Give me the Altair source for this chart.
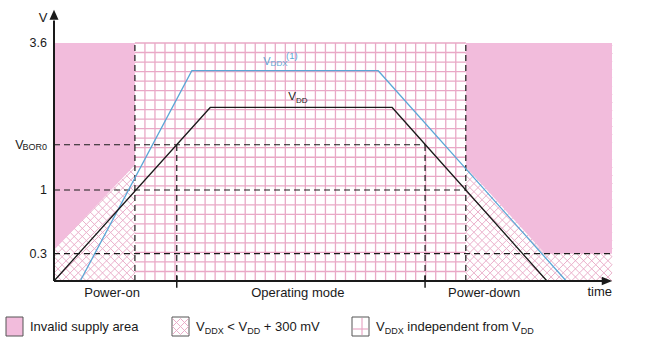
import altair as alt
import numpy as np
import pandas as pd

# ---------------- values ----------------
V_MAX = 3.6
V_BOR0 = 1.8
tick_values = [3.6, 1.0, 0.3]
tick_labels = ["3.6", "1", "0.3"]

# time in arbitrary units (0 = origin, 100 = end of time axis)
vdd_t = [0.0, 28.0, 60.6, 88.35]
vdd_v = [0.0, 2.46, 2.46, 0.0]
vddx_t = [4.7, 24.7, 58.1, 91.8]
vddx_v = [0.0, 3.11, 3.11, 0.0]

t_left_zone_end = 14.5     # end of left invalid zone
t_right_zone_start = 73.8  # start of right invalid zone
t_axis_end = 100.0
axis_ticks_t = [22.0, 66.5]

inv_left_t = [0.0, 14.5]
inv_left_low = [0.34, 1.44]
inv_right_t = [73.8, 88.0, 100.0]
inv_right_low = [1.41, 0.3, 0.3]

hdash_v = [V_BOR0, 1.0, 0.3]
hdash_t_end = [66.5, 73.8, 100.0]
vdash_t = [14.5, 22.0, 66.5, 73.8]
vdash_v_top = [3.6, V_BOR0, V_BOR0, 3.6]

phase_labels = ["Power-on", "Operating mode", "Power-down"]
phase_t = [10.4, 43.7, 77.1]

# ---------------- styling ----------------
FONT = "Liberation Sans"
PINK = "#f2bcdc"
GRID = "#e9a8c6"
HATCH = "#e8a6c4"
BLUE = "#5ba7d6"
BLACK = "#1a1a1a"
DASH = [6, 4]

X_RANGE = [54, 612]
Y_RANGE = [281, 190, 43]
XS = alt.Scale(domain=[0, 100], range=X_RANGE, nice=False, zero=False)
YS = alt.Scale(domain=[0, 1, 3.6], range=Y_RANGE, nice=False, zero=False)
US = alt.Scale(domain=[0, 3.6], range=[281, 43], nice=False, zero=False)  # texture space
PX_T = (X_RANGE[1] - X_RANGE[0]) / 100.0
PX_U = (281 - 43) / 3.6
PITCH = 8.1
XPATH = "M-1,-1L1,1M-1,1L1,-1"


def xq(f):
    return alt.X(f, type="quantitative", scale=XS, axis=None)


def yq(f):
    return alt.Y(f, type="quantitative", scale=YS, axis=None)


def uq(f):
    return alt.Y(f, type="quantitative", scale=US, axis=None)


def px(f, ch):
    return ch(f, type="quantitative", scale=None, axis=None)


layers = []

# --- cross-hatch texture (left and right zones), covered later by pink areas
for t0, t1 in [(0.0, t_left_zone_end), (t_right_zone_start, t_axis_end)]:
    n = max(1, int(round((t1 - t0) * PX_T / PITCH)))
    step_t = (t1 - t0) / n
    span = step_t * PX_T
    step_u = span / PX_U
    m = int(np.floor(V_MAX / step_u))
    tt, uu = np.meshgrid(t0 + step_t * (np.arange(n) + 0.5), step_u * (np.arange(m) + 0.5))
    hdf = pd.DataFrame({"t": tt.ravel(), "u": uu.ravel()})
    layers.append(
        alt.Chart(hdf).mark_point(shape=XPATH, filled=False, stroke=HATCH, strokeWidth=0.9,
                                  size=span * span, opacity=1)
        .encode(x=xq("t"), y=uq("u"))
    )

# --- square grid texture (middle zone)
n_cols, n_rows = 33, 25
gv = pd.DataFrame({"t": np.linspace(t_left_zone_end, t_right_zone_start, n_cols + 1)[1:-1],
                   "u0": 0.0, "u1": V_MAX})
gh = pd.DataFrame({"u": np.linspace(0, V_MAX, n_rows + 1)[1:],
                   "t0": t_left_zone_end, "t1": t_right_zone_start})
layers.append(alt.Chart(gv).mark_rule(color=GRID, strokeWidth=1.3)
              .encode(x=xq("t"), y=uq("u0"), y2="u1"))
layers.append(alt.Chart(gh).mark_rule(color=GRID, strokeWidth=1.3)
              .encode(y=uq("u"), x=xq("t0"), x2="t1"))

# --- invalid supply areas
left_df = pd.DataFrame({"t": inv_left_t, "top": V_MAX, "low": inv_left_low})
right_df = pd.DataFrame({"t": inv_right_t, "top": V_MAX, "low": inv_right_low})
for d in (left_df, right_df):
    layers.append(alt.Chart(d).mark_area(color=PINK, opacity=1)
                  .encode(x=xq("t"), y=yq("top"), y2="low"))

# --- dashed reference lines
hd = pd.DataFrame({"v": hdash_v, "t0": 0.0, "t1": hdash_t_end})
vd = pd.DataFrame({"t": vdash_t, "v0": 0.0, "v1": vdash_v_top})
layers.append(alt.Chart(hd).mark_rule(color=BLACK, strokeWidth=1.2, strokeDash=DASH)
              .encode(y=yq("v"), x=xq("t0"), x2="t1"))
layers.append(alt.Chart(vd).mark_rule(color=BLACK, strokeWidth=1.2, strokeDash=DASH)
              .encode(x=xq("t"), y=yq("v0"), y2="v1"))

# --- supply curves
layers.append(alt.Chart(pd.DataFrame({"t": vddx_t, "v": vddx_v}))
              .mark_line(color=BLUE, strokeWidth=1.3).encode(x=xq("t"), y=yq("v")))
layers.append(alt.Chart(pd.DataFrame({"t": vdd_t, "v": vdd_v}))
              .mark_line(color=BLACK, strokeWidth=1.3).encode(x=xq("t"), y=yq("v")))

# --- axes with arrows
layers.append(alt.Chart(pd.DataFrame({"t0": [0.0], "t1": [98.6], "v": [0.0]}))
              .mark_rule(color=BLACK, strokeWidth=2).encode(y=yq("v"), x=xq("t0"), x2="t1"))
layers.append(alt.Chart(pd.DataFrame({"t": [0.0], "v0": [0.0], "v1": [4.0]}))
              .mark_rule(color=BLACK, strokeWidth=2).encode(x=xq("t"), y=yq("v0"), y2="v1"))
layers.append(alt.Chart(pd.DataFrame({"t": [99.1], "v": [0.0]}))
              .mark_point(shape="M1,0L-1,-0.8L-1,0.8Z", filled=True, color=BLACK, size=110, opacity=1)
              .encode(x=xq("t"), y=yq("v")))
layers.append(alt.Chart(pd.DataFrame({"t": [0.0], "v": [4.1]}))
              .mark_point(shape="M0,-1L0.9,1L-0.9,1Z", filled=True, color=BLACK, size=100, opacity=1)
              .encode(x=xq("t"), y=yq("v")))
layers.append(alt.Chart(pd.DataFrame({"t": axis_ticks_t, "v0": -0.075, "v1": 0.055}))
              .mark_rule(color=BLACK, strokeWidth=1.5).encode(x=xq("t"), y=yq("v0"), y2="v1"))

# --- y tick labels
layers.append(alt.Chart(pd.DataFrame({"v": tick_values, "lab": tick_labels}))
              .mark_text(font=FONT, fontSize=12.5, align="right", baseline="alphabetic", dy=4.3, color=BLACK)
              .encode(y=yq("v"), x=alt.value(47), text="lab:N"))
bor = pd.DataFrame({"v": [V_BOR0], "a": ["V"], "b": ["BOR0"]})
layers.append(alt.Chart(bor).mark_text(font=FONT, fontSize=12.5, align="right", baseline="alphabetic",
                                       dy=4.3, color=BLACK)
              .encode(y=yq("v"), x=alt.value(23.5), text="a:N"))
layers.append(alt.Chart(bor).mark_text(font=FONT, fontSize=9, align="right", baseline="alphabetic",
                                       dy=5, color=BLACK)
              .encode(y=yq("v"), x=alt.value(47), text="b:N"))

# --- phase labels
layers.append(alt.Chart(pd.DataFrame({"t": phase_t, "lab": phase_labels}))
              .mark_text(font=FONT, fontSize=13, align="center", baseline="alphabetic", color=BLACK)
              .encode(x=xq("t"), y=alt.value(296.5), text="lab:N"))
layers.append(alt.Chart(pd.DataFrame({"t": [t_axis_end], "lab": ["time"]}))
              .mark_text(font=FONT, fontSize=13, align="right", baseline="alphabetic", color=BLACK)
              .encode(x=xq("t"), y=alt.value(296), text="lab:N"))
layers.append(alt.Chart(pd.DataFrame({"lab": ["V"]}))
              .mark_text(font=FONT, fontSize=13, align="center", baseline="alphabetic", color=BLACK)
              .encode(x=alt.value(43), y=alt.value(22), text="lab:N"))

# --- curve labels (anchored on the plateau centres)
vddx_lab = pd.DataFrame({"t": [(vddx_t[1] + vddx_t[2]) / 2], "v": [vddx_v[1]],
                         "a": ["V"], "b": ["DDX"], "c": ["(1)"]})
for txt, fs, dx, dy in [("a", 11, -21.7, -5.7), ("b", 8, -14.4, -4.5), ("c", 9.5, 1, -12.2)]:
    layers.append(alt.Chart(vddx_lab).mark_text(font=FONT, fontSize=fs, align="left", baseline="alphabetic",
                                                dx=dx, dy=dy, color=BLUE)
                  .encode(x=xq("t"), y=yq("v"), text=f"{txt}:N"))
vdd_lab = pd.DataFrame({"t": [(vdd_t[1] + vdd_t[2]) / 2], "v": [vdd_v[1]], "a": ["V"], "b": ["DD"]})
for txt, fs, dx, dy in [("a", 11.5, -12.9, -7), ("b", 8, -5.2, -4.3)]:
    layers.append(alt.Chart(vdd_lab).mark_text(font=FONT, fontSize=fs, align="left", baseline="alphabetic",
                                               dx=dx, dy=dy, color=BLACK)
                  .encode(x=xq("t"), y=yq("v"), text=f"{txt}:N"))

# --- legend (drawn manually)
AW = {' ': 278, '<': 584, '+': 584, '0': 556, '3': 556, 'm': 833, 'V': 667, 'D': 722, 'X': 667,
      'i': 222, 'n': 556, 'd': 556, 'e': 556, 'p': 556, 't': 278, 'f': 278, 'r': 333, 'o': 556,
      'I': 278, 'v': 500, 'a': 556, 'l': 222, 's': 500, 'u': 556, 'y': 500}


def tw(s, fs):
    return sum(AW.get(c, 556) for c in s) * fs / 1000.0


LEG_BASE = 331.0
rows = []


def rich(x0, segs):
    x = x0
    for s, kind in segs:
        fs = 13 if kind == "n" else 9
        lead = len(s) - len(s.lstrip(" "))
        x += tw(" " * lead, fs)
        body = s.lstrip(" ")
        rows.append({"x": x, "y": LEG_BASE + (0 if kind == "n" else 3), "text": body, "fs": fs})
        x += tw(body, fs)


rich(30, [("Invalid supply area", "n")])
rich(196, [("V", "n"), ("DDX", "s"), (" < V", "n"), ("DD", "s"), (" + 300 mV", "n")])
rich(376, [("V", "n"), ("DDX", "s"), (" independent from V", "n"), ("DD", "s")])
leg_txt = pd.DataFrame(rows)
layers.append(alt.Chart(leg_txt).mark_text(font=FONT, align="left", baseline="alphabetic", color=BLACK)
              .encode(x=px("x", alt.X), y=px("y", alt.Y), text="text:N",
                      size=alt.Size("fs:Q", scale=None, legend=None)))

sw = pd.DataFrame({"x": [6, 172, 352], "x2": [23, 189, 369], "y": [317, 317, 317], "y2": [336, 336, 336],
                   "fill": [PINK, "#ffffff", "#ffffff"]})
layers.append(alt.Chart(sw).mark_rect(stroke="#555555", strokeWidth=1)
              .encode(x=px("x", alt.X), x2="x2", y=px("y", alt.Y), y2="y2",
                      fill=alt.Fill("fill:N", scale=None, legend=None)))
# hatch inside swatch 2
hx, hy = np.meshgrid([176.5, 184.5], [322.5, 330.5])
layers.append(alt.Chart(pd.DataFrame({"x": hx.ravel(), "y": hy.ravel()}))
              .mark_point(shape=XPATH, filled=False, stroke=HATCH, strokeWidth=0.9, size=64, opacity=1)
              .encode(x=px("x", alt.X), y=px("y", alt.Y)))
# cross inside swatch 3
layers.append(alt.Chart(pd.DataFrame({"x": [362.0], "y": [318.0], "y2": [335.0]}))
              .mark_rule(color=GRID, strokeWidth=1.2).encode(x=px("x", alt.X), y=px("y", alt.Y), y2="y2"))
layers.append(alt.Chart(pd.DataFrame({"x": [353.0], "x2": [368.0], "y": [329.0]}))
              .mark_rule(color=GRID, strokeWidth=1.2).encode(x=px("x", alt.X), x2="x2", y=px("y", alt.Y)))

chart = (
    alt.layer(*layers)
    .resolve_scale(x="independent", y="independent")
    .properties(width=650, height=353, autosize=alt.AutoSizeParams(type="none"), padding=0,
                background="white")
    .configure_view(stroke=None)
)

chart.save("out.html", embed_options={"renderer": "svg", "actions": False})
